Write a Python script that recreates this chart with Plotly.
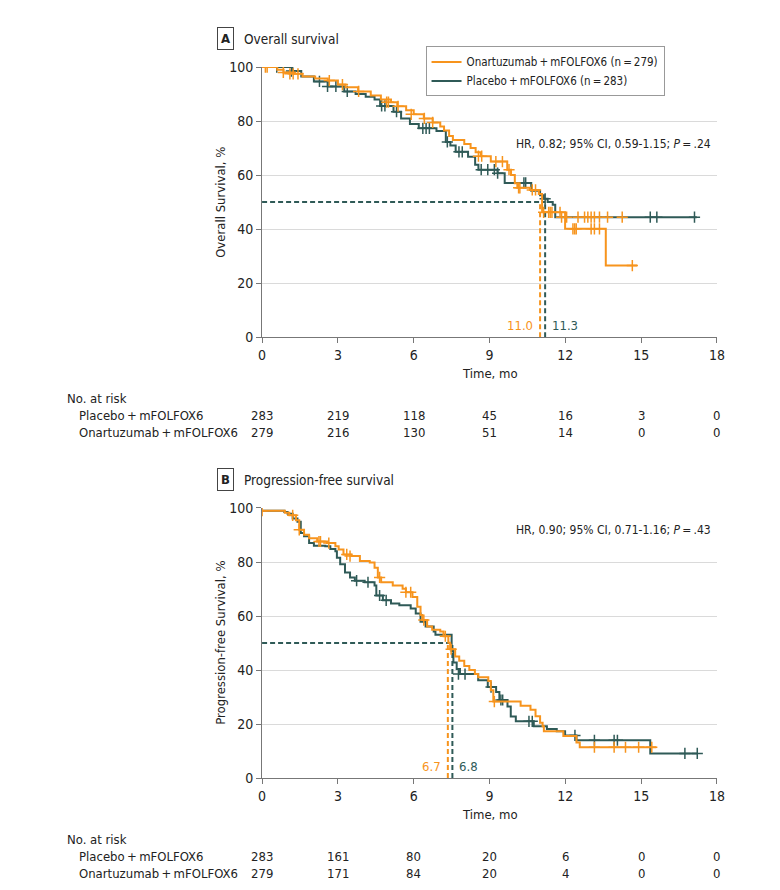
import plotly.graph_objects as go

ORANGE = "#F7941D"
TEAL = "#2F5A57"
FONT = "DejaVu Sans Condensed, Liberation Sans Narrow, sans-serif"
W, H = 780, 890

# ---- Overall survival (months, survival %) ----
os_onar_t = [0, 0.6, 0.85, 1.3, 1.6, 2.1, 2.6, 3.0, 3.3, 3.8, 4.3, 4.7, 5.1, 5.35, 5.7, 6.0,
             6.4, 6.75, 7.05, 7.2, 7.4, 7.55, 8.0, 8.25, 8.45, 8.65, 9.05, 9.7, 9.85, 10.0,
             10.1, 10.6, 10.95, 11.08, 11.99, 13.6, 14.84]
os_onar_s = [100, 99, 98, 97.5, 96.5, 95.8, 95, 93.5, 92.5, 91, 89.5, 88, 87, 85.5, 84, 82.5,
             81, 79.5, 78, 76.5, 74.5, 73, 71.5, 70, 68.5, 67, 65, 62, 60, 57,
             55.3, 54.5, 53, 46.2, 40.1, 26.5, 26.5]
os_onar_cens_t = [0.13, 0.2, 0.84, 1.1, 1.23, 1.42, 2.66, 3.18, 3.82, 4.93, 5.0, 5.38, 5.9,
                  6.42, 6.75, 8.56, 8.69, 9.25, 9.51, 9.77, 10.15, 10.2, 10.69, 10.82,
                  11.14, 11.34, 11.4, 11.47, 11.79,
                  11.85, 12.05, 12.5, 12.76, 12.89, 13.02, 13.15, 13.35, 13.67, 14.25,
                  12.3, 12.37, 12.43, 13.02, 13.15, 13.35, 14.65]
os_onar_cens_s = [100, 100, 98, 97.5, 97.5, 97.5, 95, 93.5, 91, 87, 87, 85.5, 82.5,
                  81, 79.5, 67, 67, 65, 65, 62, 55.3, 55.3, 54.5, 54.5,
                  46.2, 46.2, 46.2, 46.2, 46.2,
                  44.4, 44.4, 44.4, 44.4, 44.4, 44.4, 44.4, 44.4, 44.4, 44.4,
                  40.1, 40.1, 40.1, 40.1, 40.1, 40.1, 26.5]

os_plac_t = [0, 1.2, 1.55, 2.05, 2.6, 3.25, 3.7, 4.1, 4.45, 4.67, 5.2, 5.5, 5.85, 6.2, 6.9,
             7.27, 7.45, 7.66, 8.15, 8.43, 8.56, 9.32, 9.6, 10.65, 11.0, 11.15, 11.3, 11.5,
             11.6, 17.2]
os_plac_s = [100, 98.5, 96.5, 94.7, 92.8, 91, 90, 89, 88, 85.6, 83.5, 81, 78.9, 77.3, 76.3,
             72.3, 71, 68.6, 66.8, 63.8, 62, 60.7, 57.1, 54.2, 52.5, 51.2, 50, 49,
             44.4, 44.4]
os_plac_cens_t = [0.58, 1.16, 2.27, 2.59, 2.92, 3.37, 4.73, 4.86, 5.32, 6.36, 6.49, 6.62,
                  7.33, 7.79, 7.92, 8.67, 8.93, 9.19, 9.32, 10.36, 10.43, 11.2,
                  15.36, 15.62, 17.11]
os_plac_cens_s = [100, 98.5, 94.7, 92.8, 92.8, 91, 85.6, 85.6, 83.5, 77.3, 77.3, 77.3,
                  72.3, 68.6, 68.6, 62, 62, 62, 60.7, 57.1, 57.1, 51.2,
                  44.4, 44.4, 44.4]

# ---- Progression-free survival ----
pfs_onar_t = [0, 0.9, 1.08, 1.34, 1.47, 1.66, 1.86, 2.18, 2.57, 2.9, 3.03, 3.22, 3.54, 3.87,
              4.26, 4.45, 4.58, 4.71, 5.17, 5.56, 5.69, 5.95, 6.14, 6.27, 6.34, 6.53, 6.73,
              7.05, 7.18, 7.37, 7.44, 7.64, 7.8, 8.0, 8.2, 8.42, 8.55, 8.95, 9.05, 9.15,
              10.23, 10.62, 10.82, 11.0, 11.1, 11.15, 11.92, 12.44, 12.57, 15.6]
pfs_onar_s = [99, 98.2, 97.3, 95.5, 91.9, 90.1, 88.8, 87.6, 87.0, 85.8, 84.6, 82.8, 82.2, 80.4,
              79.8, 77.9, 74.3, 72.5, 71.3, 70.1, 68.8, 67.0, 63.4, 60.4, 58.5, 56.1, 54.9,
              54.3, 52.5, 50.1, 47.7, 45, 43.4, 41.5, 40, 38.5, 37.3, 35.9, 32.5, 28.3,
              26.8, 25.3, 22.9, 20.5, 19.2, 17.3, 15.6, 13.2, 11.4, 11.4]
pfs_onar_cens_t = [0.0, 1.21, 1.47, 2.25, 2.31, 2.64, 3.35, 3.48, 4.65, 5.69, 5.88, 6.4, 7.25,
                   7.48, 9.19, 13.15, 13.93, 14.38, 14.9, 15.42]
pfs_onar_cens_s = [99, 97.3, 91.9, 87.6, 87.6, 87.0, 82.8, 82.2, 74.3, 68.8, 68.8, 58.5, 52.5,
                   47.7, 28.3, 11.4, 11.4, 11.4, 11.4, 11.4]

pfs_plac_t = [0, 0.88, 1.01, 1.21, 1.4, 1.53, 1.66, 1.86, 2.05, 2.5, 2.7, 2.9, 2.96, 3.09,
              3.28, 3.48, 3.67, 4.06, 4.45, 4.52, 4.78, 5.1, 5.43, 5.88, 6.08, 6.27, 6.47,
              6.79, 6.86, 7.5, 7.57, 7.7, 7.83, 8.55, 8.93, 9.26, 9.39, 9.71, 9.84, 10.04,
              10.75, 11.27, 11.66, 11.99, 12.44, 15.36, 17.24]
pfs_plac_s = [99, 98.5, 97.9, 96.1, 94.9, 90.7, 89.5, 87.0, 86.0, 85.8, 84.8, 84.0, 81.6, 79.2,
              76.1, 74.3, 73.1, 72.5, 71.3, 67.6, 65.8, 64.6, 64.0, 62.8, 60.9, 57.9, 56.1,
              54.3, 53.1, 47.0, 42.8, 40.4, 38.5, 36.2, 33.7, 31.9, 28.9, 26.5, 22.8, 21.0,
              19.2, 18.2, 17.3, 15.8, 14.0, 9.1, 9.1]
pfs_plac_cens_t = [3.74, 4.19, 4.65, 4.91, 7.77, 8.03, 9.06, 9.45, 9.52, 10.56, 10.69, 12.38,
                   13.15, 13.93, 14.06, 16.73, 17.22]
pfs_plac_cens_s = [73.1, 72.5, 67.6, 65.8, 38.5, 38.5, 33.7, 28.9, 28.9, 21.0, 21.0, 15.8,
                   14.0, 14.0, 14.0, 9.1, 9.1]

# medians: label text and where the dashed line is drawn
os_median_text = ["11.0", "11.3"]
os_median_pos = [11.0, 11.2]
pfs_median_text = ["6.7", "6.8"]
pfs_median_pos = [7.35, 7.53]

risk_times = [0, 3, 6, 9, 12, 15, 18]
os_risk_plac = [283, 219, 118, 45, 16, 3, 0]
os_risk_onar = [279, 216, 130, 51, 14, 0, 0]
pfs_risk_plac = [283, 161, 80, 20, 6, 0, 0]
pfs_risk_onar = [279, 171, 84, 20, 4, 0, 0]

os_hr = "HR, 0.82; 95% CI, 0.59-1.15; <i>P</i>\u2009=\u2009.24"
pfs_hr = "HR, 0.90; 95% CI, 0.71-1.16; <i>P</i>\u2009=\u2009.43"
onar_name = "Onartuzumab\u2009+\u2009mFOLFOX6"
plac_name = "Placebo\u2009+\u2009mFOLFOX6"


def py(p):
    return 1 - p / H


fig = go.Figure()


def add_panel(xa, ya, onar, plac, med_pos, legend):
    ot, os_, oct_, ocs = onar
    pt, ps, pct, pcs = plac
    dash = dict(width=2, dash="5px,3px")
    # median dashed lines
    fig.add_trace(go.Scatter(x=[0, med_pos[1]], y=[50, 50], mode="lines", xaxis=xa, yaxis=ya,
                             line=dict(dash, color=TEAL), showlegend=False, hoverinfo="skip"))
    fig.add_trace(go.Scatter(x=[med_pos[0], med_pos[0]], y=[0, 50], mode="lines", xaxis=xa,
                             yaxis=ya, line=dict(dash, color=ORANGE),
                             showlegend=False, hoverinfo="skip"))
    fig.add_trace(go.Scatter(x=[med_pos[1], med_pos[1]], y=[0, 50], mode="lines", xaxis=xa,
                             yaxis=ya, line=dict(dash, color=TEAL),
                             showlegend=False, hoverinfo="skip"))
    fig.add_trace(go.Scatter(x=pt, y=ps, mode="lines", line_shape="hv", xaxis=xa, yaxis=ya,
                             line=dict(color=TEAL, width=2),
                             name=plac_name + " (n\u2009=\u2009283)", showlegend=legend,
                             legendrank=2))
    fig.add_trace(go.Scatter(x=pct, y=pcs, mode="markers", xaxis=xa, yaxis=ya,
                             marker=dict(symbol="cross-thin", size=8,
                                         line=dict(color=TEAL, width=1.5)),
                             showlegend=False))
    fig.add_trace(go.Scatter(x=ot, y=os_, mode="lines", line_shape="hv", xaxis=xa, yaxis=ya,
                             line=dict(color=ORANGE, width=2),
                             name=onar_name + " (n\u2009=\u2009279)", showlegend=legend,
                             legendrank=1))
    fig.add_trace(go.Scatter(x=oct_, y=ocs, mode="markers", xaxis=xa, yaxis=ya,
                             marker=dict(symbol="cross-thin", size=8,
                                         line=dict(color=ORANGE, width=1.5)),
                             showlegend=False))


add_panel("x", "y", (os_onar_t, os_onar_s, os_onar_cens_t, os_onar_cens_s),
          (os_plac_t, os_plac_s, os_plac_cens_t, os_plac_cens_s), os_median_pos, True)
add_panel("x2", "y2", (pfs_onar_t, pfs_onar_s, pfs_onar_cens_t, pfs_onar_cens_s),
          (pfs_plac_t, pfs_plac_s, pfs_plac_cens_t, pfs_plac_cens_s), pfs_median_pos, False)

x_dom = [254 / W, 716 / W]
axis_common = dict(showline=True, linecolor="#777", linewidth=1, ticks="outside", ticklen=5,
                   tickcolor="#777", tickfont=dict(size=14, color="#222"), zeroline=False)
xcommon = dict(axis_common, range=[0, 18], tickvals=risk_times, showgrid=False)
ycommon = dict(axis_common, range=[0, 100], tickvals=[0, 20, 40, 60, 80, 100],
               showgrid=True, gridcolor="#dadada", gridwidth=1)

fig.update_layout(
    width=W, height=H, margin=dict(l=0, r=0, t=0, b=0),
    paper_bgcolor="white", plot_bgcolor="white",
    font=dict(family=FONT, size=13, color="#222"),
    xaxis=dict(xcommon, domain=x_dom, anchor="y"),
    yaxis=dict(ycommon, domain=[py(327), py(52)], anchor="x"),
    xaxis2=dict(xcommon, domain=x_dom, anchor="y2"),
    yaxis2=dict(ycommon, domain=[py(776), py(501)], anchor="x2"),
    legend=dict(x=420 / W, y=py(31), xanchor="left", yanchor="top", bgcolor="white",
                bordercolor="#999", borderwidth=1, font=dict(size=11.5), traceorder="normal",
                itemwidth=30, tracegroupgap=0),
    showlegend=True,
)

ann = []


def text(x, y, t, xref="paper", xanchor="left", size=13, color="#222", **kw):
    ann.append(dict(x=x, y=y, xref=xref, yref="paper", text=t, showarrow=False,
                    xanchor=xanchor, yanchor="middle", font=dict(size=size, color=color), **kw))


panels = [
    (0, "x", "A", "Overall survival", "Overall Survival, %", os_hr, 130, os_median_text,
     os_median_pos, os_risk_plac, os_risk_onar),
    (449, "x2", "B", "Progression-free survival", "Progression-free Survival, %", pfs_hr, 74,
     pfs_median_text, pfs_median_pos, pfs_risk_plac, pfs_risk_onar),
]
for top, xref, label, title, ytitle, hr, hr_y, meds, medpos, rp, ro in panels:
    text(217 / W, py(23 + top), "<b>" + label + "</b>", xanchor="center", size=13,
         bordercolor="#444", borderwidth=1, borderpad=3)
    text(234 / W, py(23 + top), title, size=13.5)
    text(211 / W, py(189.5 + top), ytitle, xanchor="center", textangle=-90)
    text(712 / W, py(hr_y + top), hr, xanchor="right", size=12)
    text(medpos[0], py(315 + top), meds[0], xref=xref, xanchor="right", color=ORANGE,
         xshift=-5)
    text(medpos[1], py(315 + top), meds[1], xref=xref, xanchor="left", color=TEAL, xshift=5)
    text(9, py(364 + top), "Time, mo", xref=xref, xanchor="center")
    text(54 / W, py(390 + top), "No. at risk")
    text(66 / W, py(407 + top), plac_name)
    text(66 / W, py(424 + top), onar_name)
    for t, a, b in zip(risk_times, rp, ro):
        text(t, py(407 + top), str(a), xref=xref, xanchor="center")
        text(t, py(424 + top), str(b), xref=xref, xanchor="center")

fig.update_layout(annotations=ann)
fig.write_html("out.html")
